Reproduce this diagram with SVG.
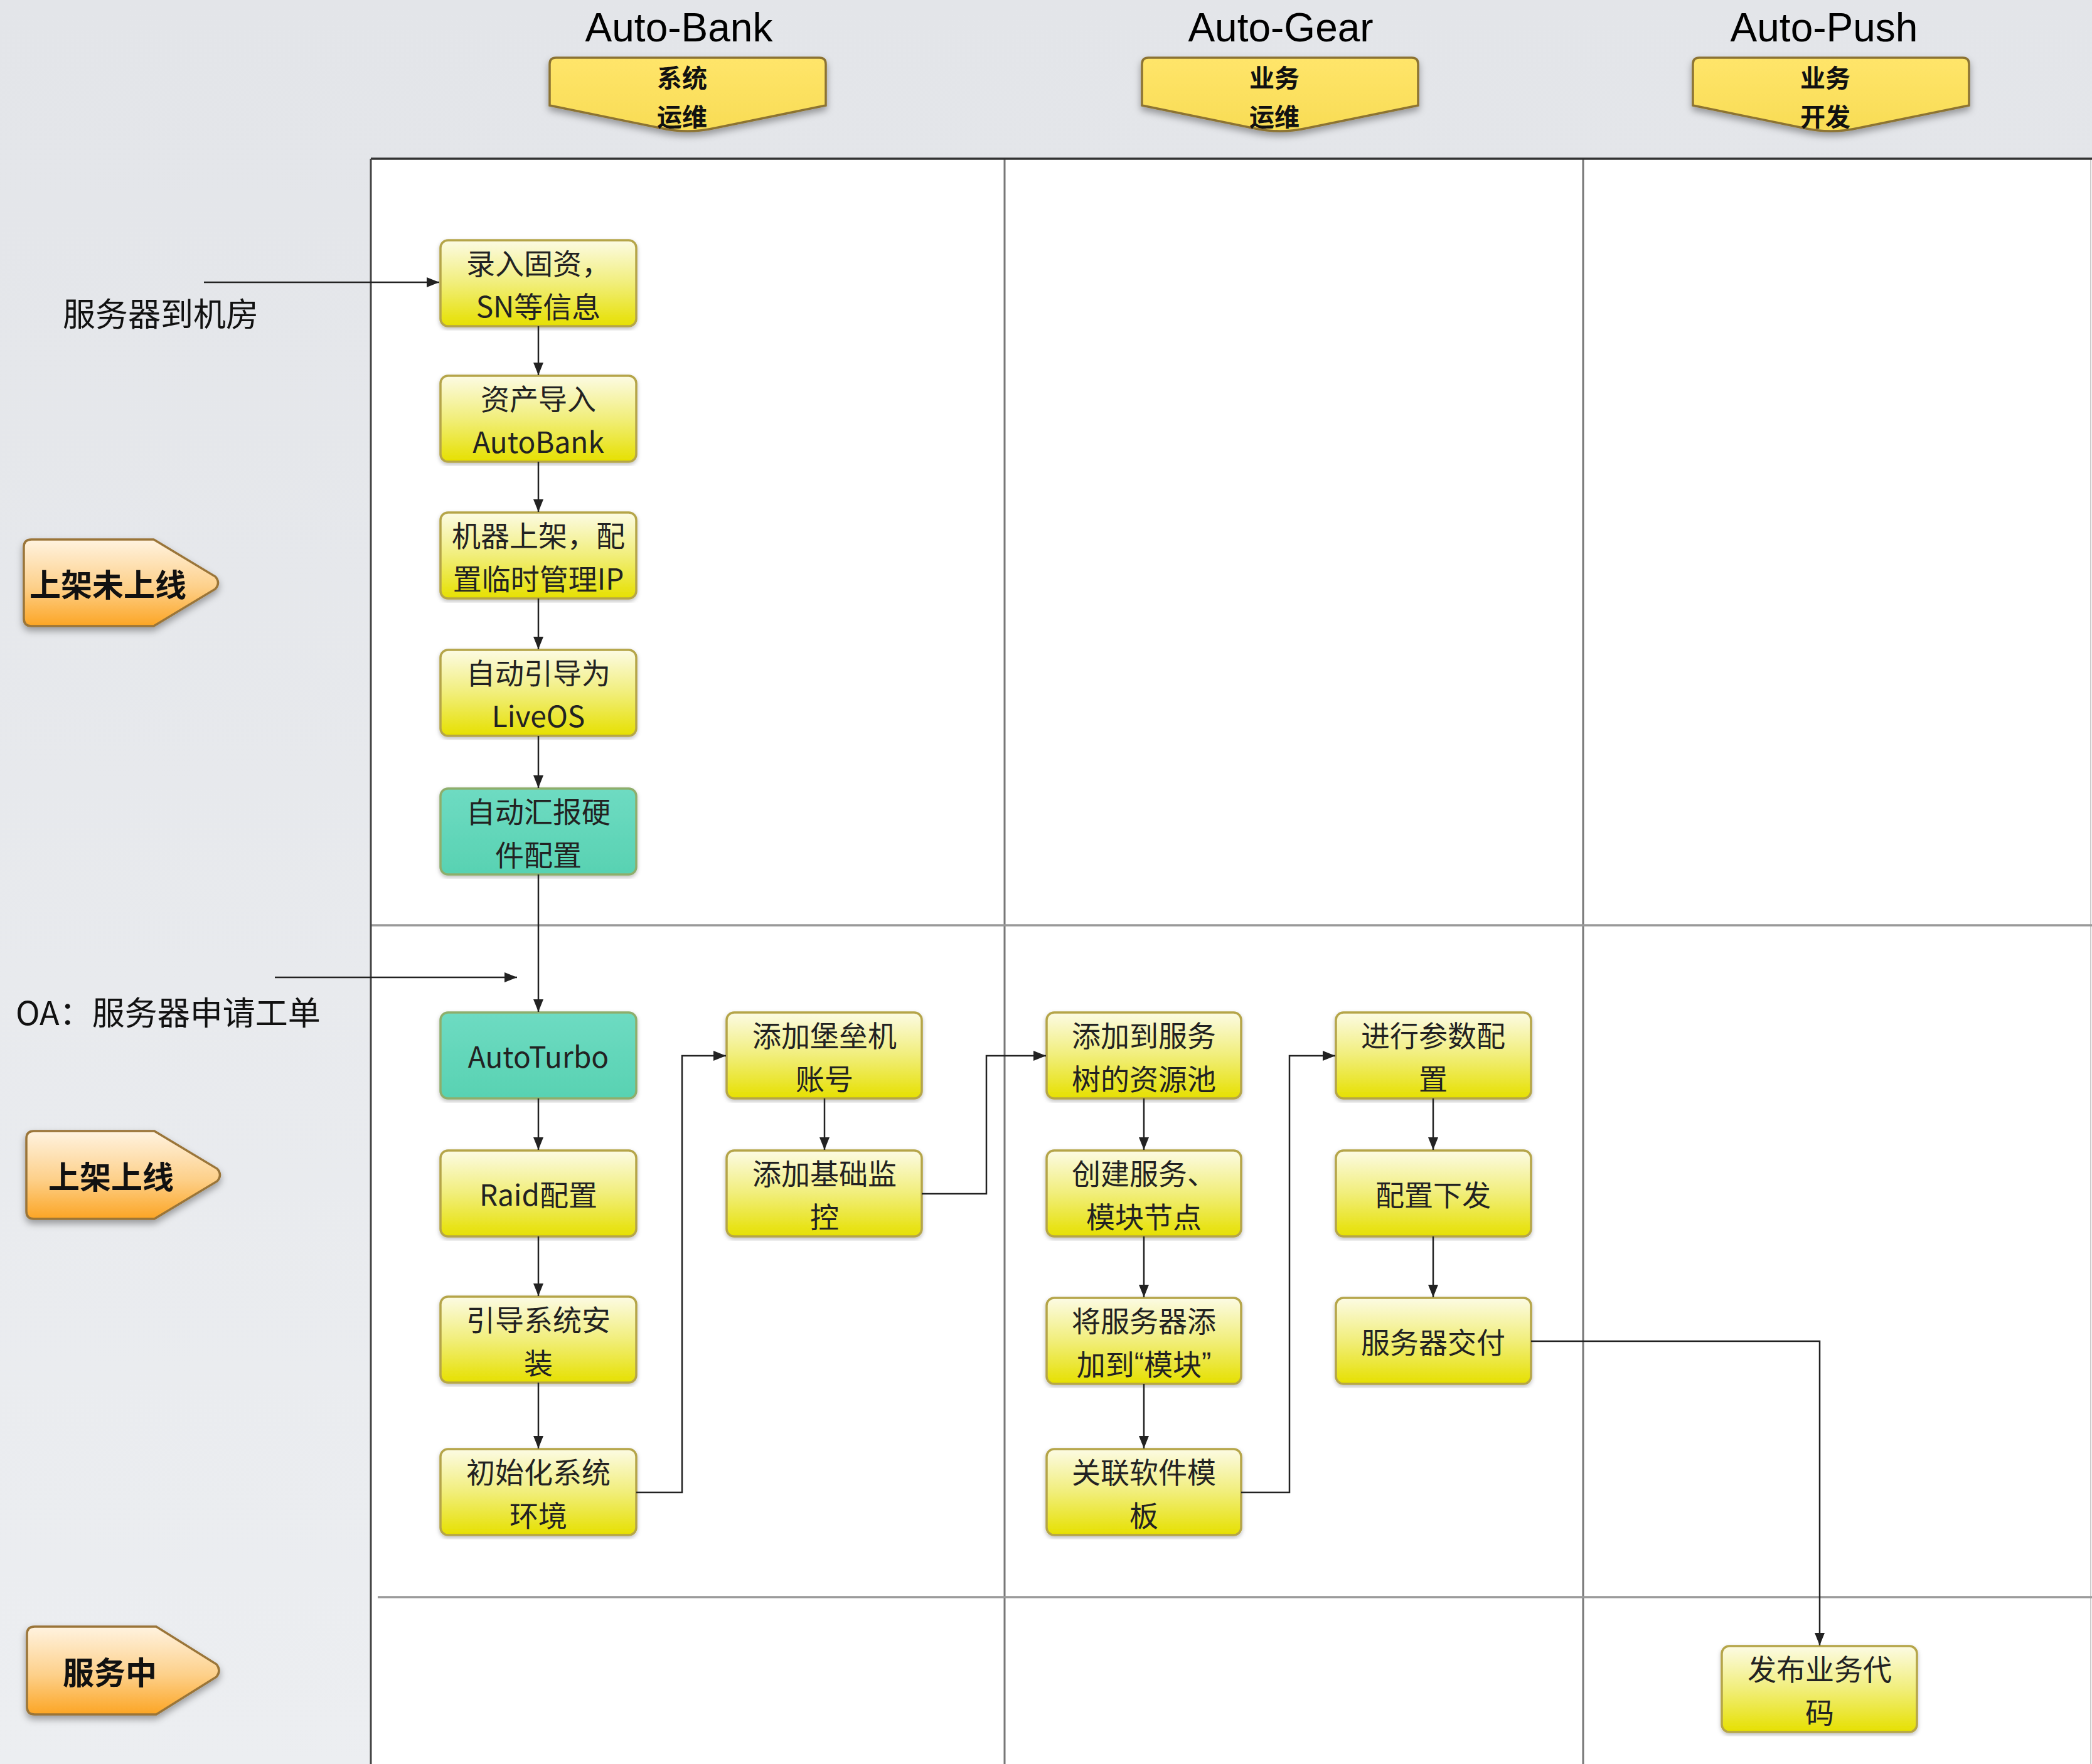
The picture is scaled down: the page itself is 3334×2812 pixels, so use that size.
<svg xmlns="http://www.w3.org/2000/svg" width="3334" height="2812" viewBox="0 0 3334 2812">
<defs>
<linearGradient id="bg" x1="0" y1="0" x2="0" y2="1"><stop offset="0" stop-color="#e3e5e9"/><stop offset="1" stop-color="#eceef1"/></linearGradient>
<linearGradient id="yel" x1="0" y1="0" x2="0" y2="1"><stop offset="0" stop-color="#fcfbe4"/><stop offset="0.5" stop-color="#f1ee7a"/><stop offset="1" stop-color="#e6e000"/></linearGradient>
<linearGradient id="teal" x1="0" y1="0" x2="0" y2="1"><stop offset="0" stop-color="#6edbc2"/><stop offset="1" stop-color="#58d2b2"/></linearGradient>
<linearGradient id="org" x1="0" y1="0" x2="0" y2="1"><stop offset="0" stop-color="#fff3e0"/><stop offset="0.55" stop-color="#fdd08a"/><stop offset="1" stop-color="#fca524"/></linearGradient>
<linearGradient id="hdr" x1="0" y1="0" x2="0" y2="1"><stop offset="0" stop-color="#ffe56a"/><stop offset="1" stop-color="#f8dc55"/></linearGradient>
<filter id="sh" x="-20%" y="-20%" width="140%" height="150%"><feDropShadow dx="0" dy="6" stdDeviation="6" flood-color="#000" flood-opacity="0.35"/></filter>
<filter id="sh2" x="-5%" y="-5%" width="110%" height="110%"><feDropShadow dx="0" dy="3" stdDeviation="3" flood-color="#000" flood-opacity="0.25"/></filter>
<marker id="arr" markerUnits="userSpaceOnUse" markerWidth="22" markerHeight="16" refX="20" refY="8" orient="auto"><path d="M0,0 L20,8 L0,16 z" fill="#222"/></marker>
<style>
.node rect{stroke:#b5a548;stroke-width:3.5;}
.y rect{fill:url(#yel);}
.t rect{fill:url(#teal);stroke:#8eae6c;}
.nt{font-family:"Noto Sans CJK SC","Noto Sans",sans-serif;font-size:46px;fill:#222;text-anchor:middle;dominant-baseline:central;}
.q{font-family:"Liberation Sans",Arial,sans-serif;}
.ph path{fill:url(#org);stroke:#9a7438;stroke-width:3.5;}
.pt{font-family:"Noto Sans CJK SC",sans-serif;font-size:50px;font-weight:bold;fill:#111;text-anchor:middle;dominant-baseline:central;}
.hd path{fill:url(#hdr);stroke:#8c7332;stroke-width:3.5;}
.ht{font-family:"Noto Sans CJK SC",sans-serif;font-size:40px;font-weight:bold;fill:#111;text-anchor:middle;dominant-baseline:central;}
.lane{font-family:"Liberation Sans",Arial,sans-serif;font-size:64px;fill:#000;text-anchor:middle;}
.lbl{font-family:"Noto Sans CJK SC",sans-serif;font-size:52px;fill:#111;dominant-baseline:central;}
.conn path,.conn line{fill:none;stroke:#222;stroke-width:2.5;}
</style>
</defs>
<rect x="0" y="0" width="3334" height="2812" fill="url(#bg)"/>
<g id="pool">
<rect x="591" y="253" width="2743" height="2559" fill="#fff"/>
<line x1="1601" y1="253" x2="1601" y2="2812" stroke="#777" stroke-width="3"/>
<line x1="2523" y1="253" x2="2523" y2="2812" stroke="#777" stroke-width="3"/>
<line x1="3332" y1="253" x2="3332" y2="2812" stroke="#ccc" stroke-width="2"/>
<line x1="591" y1="1475" x2="3334" y2="1475" stroke="#999" stroke-width="3.5"/>
<line x1="602" y1="2546" x2="3334" y2="2546" stroke="#999" stroke-width="3.5"/>
<line x1="591" y1="253" x2="3334" y2="253" stroke="#333" stroke-width="3.5"/>
<line x1="591" y1="253" x2="591" y2="2812" stroke="#444" stroke-width="3"/>
</g>
<g id="lane-bank" class="hd">
<text class="lane" x="1082" y="66">Auto-Bank</text>
<path filter="url(#sh)" d="M886,92 L1306,92 Q1316,92 1316,102 L1316,168 L1140,204 Q1096,214 1052,204 L876,168 L876,102 Q876,92 886,92 Z"/>
<text class="ht" x="1087" y="122">系统</text>
<text class="ht" x="1087" y="184">运维</text>
</g>
<g id="lane-gear" class="hd">
<text class="lane" x="2041" y="66">Auto-Gear</text>
<path filter="url(#sh)" d="M1830,92 L2250,92 Q2260,92 2260,102 L2260,168 L2084,204 Q2040,214 1996,204 L1820,168 L1820,102 Q1820,92 1830,92 Z"/>
<text class="ht" x="2031" y="122">业务</text>
<text class="ht" x="2031" y="184">运维</text>
</g>
<g id="lane-push" class="hd">
<text class="lane" x="2907" y="66">Auto-Push</text>
<path filter="url(#sh)" d="M2708,92 L3128,92 Q3138,92 3138,102 L3138,168 L2962,204 Q2918,214 2874,204 L2698,168 L2698,102 Q2698,92 2708,92 Z"/>
<text class="ht" x="2909" y="122">业务</text>
<text class="ht" x="2909" y="184">开发</text>
</g>
<g id="phase1" class="ph">
<path filter="url(#sh)" d="M50,860 L245,860 L343,919 Q352,929 343,939 L245,998 L50,998 Q38,998 38,986 L38,872 Q38,860 50,860 Z"/>
<text class="pt" x="172" y="929">上架未上线</text>
</g>
<g id="phase2" class="ph">
<path filter="url(#sh)" d="M54,1803 L246,1803 L346,1863 Q355,1873 346,1883 L246,1943 L54,1943 Q42,1943 42,1931 L42,1815 Q42,1803 54,1803 Z"/>
<text class="pt" x="177" y="1873">上架上线</text>
</g>
<g id="phase3" class="ph">
<path filter="url(#sh)" d="M55,2593 L249,2593 L345,2653 Q353,2663 345,2673 L249,2733 L55,2733 Q43,2733 43,2721 L43,2605 Q43,2593 55,2593 Z"/>
<text class="pt" x="175" y="2663">服务中</text>
</g>
<g id="label-server">
<text class="lbl" x="100" y="497">服务器到机房</text>
</g>
<g id="label-oa">
<text class="lbl" x="25" y="1611">OA：服务器申请工单</text>
</g>
<g id="n1" class="node y"><rect filter="url(#sh2)" x="702" y="383" width="312" height="137" rx="12"/><text class="nt" x="858" y="417">录入固资，</text><text class="nt" x="858" y="486">SN等信息</text></g>
<g id="n2" class="node y"><rect filter="url(#sh2)" x="702" y="599" width="312" height="137" rx="12"/><text class="nt" x="858" y="633">资产导入</text><text class="nt" x="858" y="702">AutoBank</text></g>
<g id="n3" class="node y"><rect filter="url(#sh2)" x="702" y="817" width="312" height="137" rx="12"/><text class="nt" x="858" y="851">机器上架，配</text><text class="nt" x="858" y="920">置临时管理IP</text></g>
<g id="n4" class="node y"><rect filter="url(#sh2)" x="702" y="1036" width="312" height="137" rx="12"/><text class="nt" x="858" y="1070">自动引导为</text><text class="nt" x="858" y="1139">LiveOS</text></g>
<g id="n5" class="node t"><rect filter="url(#sh2)" x="702" y="1257" width="312" height="137" rx="12"/><text class="nt" x="858" y="1291">自动汇报硬</text><text class="nt" x="858" y="1360">件配置</text></g>
<g id="n6" class="node t"><rect filter="url(#sh2)" x="702" y="1614" width="312" height="137" rx="12"/><text class="nt" x="858" y="1682">AutoTurbo</text></g>
<g id="n7" class="node y"><rect filter="url(#sh2)" x="702" y="1834" width="312" height="137" rx="12"/><text class="nt" x="858" y="1902">Raid配置</text></g>
<g id="n8" class="node y"><rect filter="url(#sh2)" x="702" y="2067" width="312" height="137" rx="12"/><text class="nt" x="858" y="2101">引导系统安</text><text class="nt" x="858" y="2170">装</text></g>
<g id="n9" class="node y"><rect filter="url(#sh2)" x="702" y="2310" width="312" height="137" rx="12"/><text class="nt" x="858" y="2344">初始化系统</text><text class="nt" x="858" y="2413">环境</text></g>
<g id="n10" class="node y"><rect filter="url(#sh2)" x="1158" y="1614" width="311" height="137" rx="12"/><text class="nt" x="1314" y="1648">添加堡垒机</text><text class="nt" x="1314" y="1717">账号</text></g>
<g id="n11" class="node y"><rect filter="url(#sh2)" x="1158" y="1834" width="311" height="137" rx="12"/><text class="nt" x="1314" y="1868">添加基础监</text><text class="nt" x="1314" y="1937">控</text></g>
<g id="n12" class="node y"><rect filter="url(#sh2)" x="1668" y="1614" width="310" height="137" rx="12"/><text class="nt" x="1823" y="1648">添加到服务</text><text class="nt" x="1823" y="1717">树的资源池</text></g>
<g id="n13" class="node y"><rect filter="url(#sh2)" x="1668" y="1834" width="310" height="137" rx="12"/><text class="nt" x="1823" y="1868">创建服务、</text><text class="nt" x="1823" y="1937">模块节点</text></g>
<g id="n14" class="node y"><rect filter="url(#sh2)" x="1668" y="2069" width="310" height="137" rx="12"/><text class="nt" x="1823" y="2103">将服务器添</text><text class="nt" x="1823" y="2172">加到<tspan class="q">“</tspan>模块<tspan class="q">”</tspan></text></g>
<g id="n15" class="node y"><rect filter="url(#sh2)" x="1668" y="2310" width="310" height="137" rx="12"/><text class="nt" x="1823" y="2344">关联软件模</text><text class="nt" x="1823" y="2413">板</text></g>
<g id="n16" class="node y"><rect filter="url(#sh2)" x="2129" y="1614" width="311" height="137" rx="12"/><text class="nt" x="2284" y="1648">进行参数配</text><text class="nt" x="2284" y="1717">置</text></g>
<g id="n17" class="node y"><rect filter="url(#sh2)" x="2129" y="1834" width="311" height="137" rx="12"/><text class="nt" x="2284" y="1902">配置下发</text></g>
<g id="n18" class="node y"><rect filter="url(#sh2)" x="2129" y="2069" width="311" height="137" rx="12"/><text class="nt" x="2284" y="2137">服务器交付</text></g>
<g id="n19" class="node y"><rect filter="url(#sh2)" x="2744" y="2624" width="311" height="137" rx="12"/><text class="nt" x="2900" y="2658">发布业务代</text><text class="nt" x="2900" y="2727">码</text></g>
<g id="connectors" class="conn">
<line x1="325" y1="450" x2="700" y2="450" marker-end="url(#arr)"/>
<line x1="438" y1="1558" x2="824" y2="1558" marker-end="url(#arr)"/>
<line x1="858" y1="520" x2="858" y2="598" marker-end="url(#arr)"/>
<line x1="858" y1="736" x2="858" y2="816" marker-end="url(#arr)"/>
<line x1="858" y1="954" x2="858" y2="1035" marker-end="url(#arr)"/>
<line x1="858" y1="1173" x2="858" y2="1256" marker-end="url(#arr)"/>
<line x1="858" y1="1394" x2="858" y2="1613" marker-end="url(#arr)"/>
<line x1="858" y1="1751" x2="858" y2="1833" marker-end="url(#arr)"/>
<line x1="858" y1="1971" x2="858" y2="2066" marker-end="url(#arr)"/>
<line x1="858" y1="2204" x2="858" y2="2309" marker-end="url(#arr)"/>
<path d="M1014,2379 H1087 V1683 H1157" marker-end="url(#arr)"/>
<line x1="1314" y1="1751" x2="1314" y2="1833" marker-end="url(#arr)"/>
<path d="M1469,1903 H1572 V1683 H1667" marker-end="url(#arr)"/>
<line x1="1823" y1="1751" x2="1823" y2="1833" marker-end="url(#arr)"/>
<line x1="1823" y1="1971" x2="1823" y2="2068" marker-end="url(#arr)"/>
<line x1="1823" y1="2206" x2="1823" y2="2309" marker-end="url(#arr)"/>
<path d="M1978,2379 H2055 V1683 H2128" marker-end="url(#arr)"/>
<line x1="2284" y1="1751" x2="2284" y2="1833" marker-end="url(#arr)"/>
<line x1="2284" y1="1971" x2="2284" y2="2068" marker-end="url(#arr)"/>
<path d="M2440,2138 H2900 V2623" marker-end="url(#arr)"/>
</g>
</svg>
